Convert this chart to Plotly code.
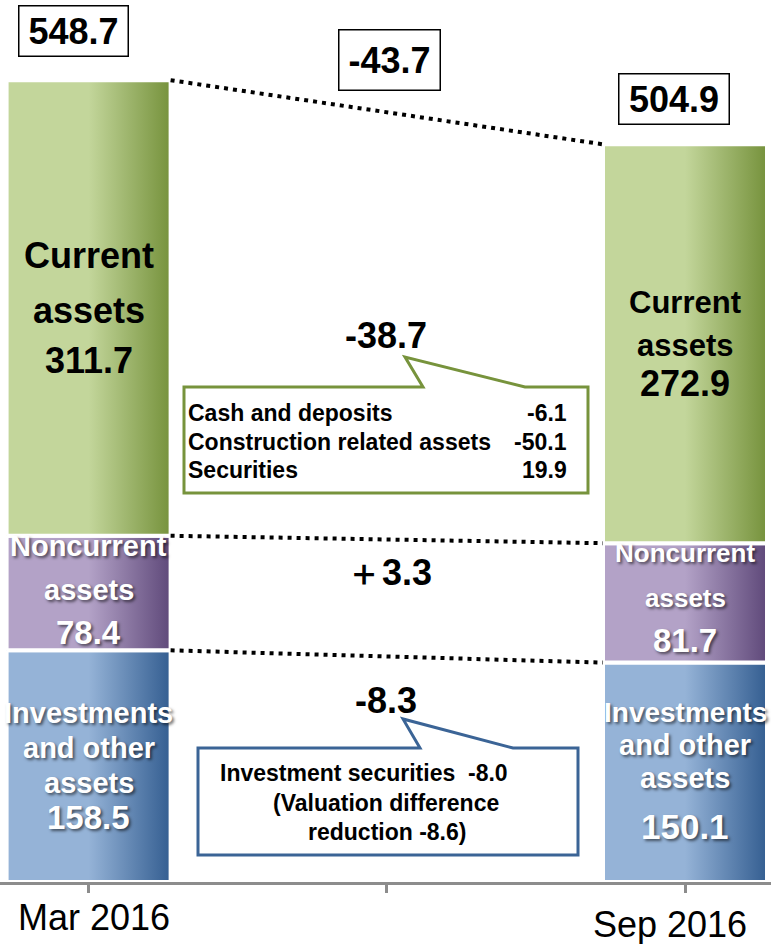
import plotly.graph_objects as go

# ---------------- data ----------------
periods = ["Mar 2016", "Sep 2016"]
period_x = [0, 2]
segments = ["Investments and other assets", "Noncurrent assets", "Current assets"]
segment_lines = [["Investments", "and other", "assets"], ["Noncurrent", "assets"], ["Current", "assets"]]
mar_values = [158.5, 78.4, 311.7]
sep_values = [150.1, 81.7, 272.9]
totals = [548.7, 504.9]
total_change = -43.7
segment_changes = [-8.3, 3.3, -38.7]
current_detail_names = ["Cash and deposits", "Construction related assets", "Securities"]
current_detail_values = [-6.1, -50.1, 19.9]
invest_note_lines = ["Investment securities  -8.0", "(Valuation difference", "reduction -8.6)"]

# ---------------- style ----------------
W, H = 771, 944
PLOT_H = 882
FONT = "Liberation Sans, Arial, sans-serif"
light = ["#95B3D7", "#B3A2C7", "#C3D69B"]
dark = ["#345E91", "#5F497A", "#76923C"]
bar_w = 0.55
XR = [-88.6 / 298.2, (W - 88.6) / 298.2]
YR = [0, PLOT_H / 1.4616]


def pxx(x):
    return x / W


def pxy(y):
    return 1 - y / PLOT_H


fig = go.Figure()

values = [mar_values, sep_values]
for xi, vals in zip(period_x, values):
    base = 0
    for si, v in enumerate(vals):
        x0, x1 = xi - bar_w / 2, xi + bar_w / 2
        fig.add_trace(go.Scatter(
            x=[x0, x1, x1, x0, x0], y=[base, base, base + v, base + v, base],
            mode="lines", fill="toself",
            line=dict(color="white", width=4),
            fillgradient=dict(type="horizontal",
                              colorscale=[[0, light[si]], [0.5, light[si]], [1, dark[si]]]),
            hoverinfo="skip", showlegend=False))
        base += v

# dotted connector lines between bars
cum_mar = [sum(mar_values[:i + 1]) for i in range(3)]
cum_sep = [sum(sep_values[:i + 1]) for i in range(3)]
for a, b in zip(cum_mar, cum_sep):
    fig.add_trace(go.Scatter(
        x=[period_x[0] + bar_w / 2, period_x[1] - bar_w / 2], y=[a, b],
        mode="lines", line=dict(color="black", width=4, dash="4px,5px"),
        hoverinfo="skip", showlegend=False))


# callout shapes
def poly(pts):
    return "M " + " L ".join(f"{pxx(x):.5f},{pxy(y):.5f}" for x, y in pts) + " Z"


green_pts = [(184, 387), (423, 387), (405, 357), (525, 387), (588, 387), (588, 493), (184, 493)]
blue_pts = [(198, 748), (420, 748), (403, 719), (513, 748), (578, 748), (578, 855), (198, 855)]
fig.add_shape(type="path", path=poly(green_pts), xref="paper", yref="paper",
              line=dict(color="#77933C", width=3), fillcolor="white")
fig.add_shape(type="path", path=poly(blue_pts), xref="paper", yref="paper",
              line=dict(color="#3B6496", width=3), fillcolor="white")

ann = []


def text(x, y, s, size, color="black", bold=True, xanchor="center", xref="paper", shadow=None, **kw):
    f = dict(family=FONT, size=size, color=color)
    if shadow:
        f["shadow"] = shadow
    ann.append(dict(x=x if xref != "paper" else pxx(x), y=pxy(y), xref=xref, yref="paper",
                    text=f"<b>{s}</b>" if bold else s, showarrow=False, font=f,
                    xanchor=xanchor, yanchor="middle", **kw))


# boxed totals
def boxed(cx, cy, s, w, h):
    ann.append(dict(x=pxx(cx), y=pxy(cy), xref="paper", yref="paper", text=f"<b>{s}</b>",
                    showarrow=False, font=dict(family=FONT, size=36, color="black"),
                    xanchor="center", yanchor="middle", bordercolor="black", borderwidth=1.5,
                    borderpad=1, bgcolor="white", width=w, height=h))


boxed(73, 31.5, f"{totals[0]:.1f}", 106, 47)
boxed(673.5, 98.5, f"{totals[1]:.1f}", 107, 47)
boxed(389, 60.5, f"{total_change:.1f}", 98, 57)

SH = "2px 2px 3px rgba(0,0,0,0.55)"
lx, rx = period_x
# in-bar labels: Mar 2016
text(lx, 255, segment_lines[2][0], 36, xref="x")
text(lx, 310, segment_lines[2][1], 36, xref="x")
text(lx, 360, f"{mar_values[2]:.1f}", 36, xref="x")
text(lx, 546, segment_lines[1][0], 29, color="white", xref="x", shadow=SH)
text(lx, 590, segment_lines[1][1], 29, color="white", xref="x", shadow=SH)
text(lx, 632, f"{mar_values[1]:.1f}", 33, color="white", xref="x", shadow=SH)
text(lx, 713, segment_lines[0][0], 29, color="white", xref="x", shadow=SH)
text(lx, 748, segment_lines[0][1], 29, color="white", xref="x", shadow=SH)
text(lx, 783, segment_lines[0][2], 29, color="white", xref="x", shadow=SH)
text(lx, 817, f"{mar_values[0]:.1f}", 33, color="white", xref="x", shadow=SH)
# Sep 2016
text(rx, 302, segment_lines[2][0], 31, xref="x")
text(rx, 345, segment_lines[2][1], 31, xref="x")
text(rx, 383, f"{sep_values[2]:.1f}", 36, xref="x")
text(rx, 553, segment_lines[1][0], 26, color="white", xref="x", shadow=SH)
text(rx, 598, segment_lines[1][1], 26, color="white", xref="x", shadow=SH)
text(rx, 640, f"{sep_values[1]:.1f}", 33, color="white", xref="x", shadow=SH)
text(rx, 712, segment_lines[0][0], 28, color="white", xref="x", shadow=SH)
text(rx, 745, segment_lines[0][1], 29, color="white", xref="x", shadow=SH)
text(rx, 778, segment_lines[0][2], 29, color="white", xref="x", shadow=SH)
text(rx, 826, f"{sep_values[0]:.1f}", 35, color="white", xref="x", shadow=SH)

# change labels
text(386, 335, f"{segment_changes[2]:.1f}", 36)
text(389, 572, f"＋{segment_changes[1]:.1f}", 36)
text(386, 700, f"{segment_changes[0]:.1f}", 36)

# green callout detail rows
for i, (n, v) in enumerate(zip(current_detail_names, current_detail_values)):
    yy = 413 + i * 28.5
    text(186, yy, n, 23, xanchor="left")
    text(569, yy, f"{v:.1f}", 23, xanchor="right")

# blue callout text
text(218, 773, invest_note_lines[0], 23, xanchor="left")
text(386, 803, invest_note_lines[1], 23)
text(387, 832, invest_note_lines[2], 23)

# period labels
text(94, 917, periods[0], 36, bold=False)
text(670, 924, periods[1], 36, bold=False)

fig.update_layout(
    width=W, height=H, margin=dict(l=0, r=0, t=0, b=H - PLOT_H),
    paper_bgcolor="white", plot_bgcolor="white", showlegend=False,
    annotations=ann,
    xaxis=dict(range=XR, showgrid=False, zeroline=False, showline=True, linecolor="#8C8C8C",
               linewidth=3, ticks="outside", ticklen=8, tickwidth=3, tickcolor="#8C8C8C",
               tickvals=[0, 1, 2], showticklabels=False, fixedrange=True),
    yaxis=dict(range=YR, visible=False, fixedrange=True),
)

fig.write_html("out.html", config={"displayModeBar": False},
               post_script="document.body.style.margin='0';document.body.style.overflow='hidden';")
